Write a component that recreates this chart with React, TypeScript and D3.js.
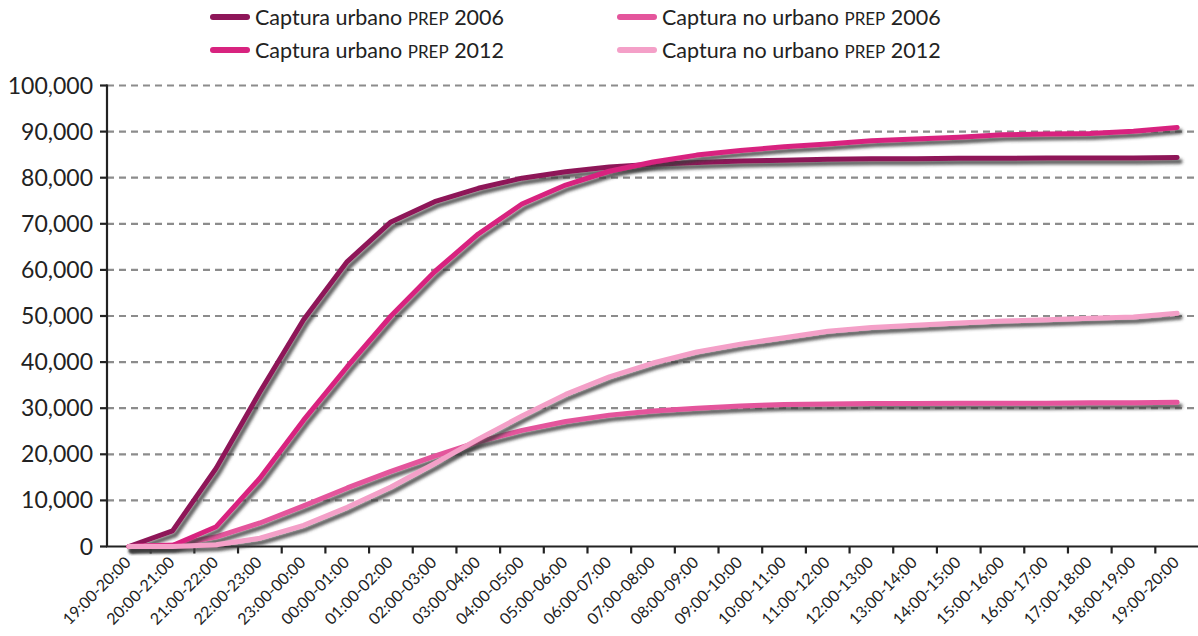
import React from "react";
import * as d3 from "d3";

const categories = [
  "19:00-20:00", "20:00-21:00", "21:00-22:00", "22:00-23:00", "23:00-00:00",
  "00:00-01:00", "01:00-02:00", "02:00-03:00", "03:00-04:00", "04:00-05:00",
  "05:00-06:00", "06:00-07:00", "07:00-08:00", "08:00-09:00", "09:00-10:00",
  "10:00-11:00", "11:00-12:00", "12:00-13:00", "13:00-14:00", "14:00-15:00",
  "15:00-16:00", "16:00-17:00", "17:00-18:00", "18:00-19:00", "19:00-20:00",
];

const urbano2006 = [
  0, 3400, 17000, 33500, 49200, 61800, 70400, 74800, 77700, 79900, 81300, 82300, 82900,
  83300, 83600, 83800, 84000, 84100, 84100, 84200, 84200, 84300, 84300, 84300, 84400,
];
const urbano2012 = [
  0, 200, 4300, 14800, 27400, 39000, 50000, 59600, 67800, 74300, 78400, 81400, 83400,
  84900, 85900, 86700, 87300, 88000, 88400, 88800, 89300, 89500, 89600, 90100, 90900,
];
const noUrbano2006 = [
  0, 300, 2100, 5100, 8800, 12700, 16300, 19600, 22700, 25200, 27100, 28500, 29400,
  30000, 30500, 30800, 30900, 31000, 31000, 31100, 31100, 31100, 31200, 31200, 31300,
];
const noUrbano2012 = [
  0, 0, 400, 1800, 4600, 8500, 12900, 18000, 23300, 28300, 33000, 36800, 39800,
  42200, 43900, 45300, 46700, 47500, 48000, 48500, 48900, 49200, 49500, 49800, 50600,
];

const yTicks = [0, 10000, 20000, 30000, 40000, 50000, 60000, 70000, 80000, 90000, 100000];

const series = [
  { name: "urbano", year: "2006", values: urbano2006, color: "#8e1659" },
  { name: "no urbano", year: "2006", values: noUrbano2006, color: "#e4559c" },
  { name: "urbano", year: "2012", values: urbano2012, color: "#d8237f" },
  { name: "no urbano", year: "2012", values: noUrbano2012, color: "#f4a0c8" },
];

const W = 1198;
const H = 636;
const font = "Lato, 'Open Sans', sans-serif";

export default function App() {
  const x = d3.scaleBand<string>().domain(categories.map((c, i) => String(i))).range([107, 1199]);
  const y = d3.scaleLinear().domain([0, 100000]).range([546.5, 85.5]);
  const bw = x.bandwidth();
  const cx = (i: number) => (x(String(i)) as number) + bw / 2;
  const fmt = d3.format(",");

  const line = d3
    .line<number>()
    .x((d, i) => cx(i))
    .y((d) => y(d))
    .curve(d3.curveLinear);

  // legend layout: two columns, two rows
  const legendPos = [
    { lx: 213, ly: 17 },
    { lx: 620, ly: 17 },
    { lx: 213, ly: 50 },
    { lx: 620, ly: 50 },
  ];

  return (
    <svg width={W} height={H} style={{ position: "absolute", left: 0, top: 0, background: "#fff" }}>
      <defs>
        <filter id="shadow" x="-5%" y="-5%" width="110%" height="120%">
          <feDropShadow dx="3" dy="4" stdDeviation="1.8" floodColor="#3a3a3a" floodOpacity="0.8" />
        </filter>
      </defs>

      {/* grid */}
      {yTicks.filter((t) => t > 0).map((t) => (
        <line key={t} x1={107} x2={W} y1={y(t)} y2={y(t)} stroke="#8c8c8c" strokeWidth={2.2} strokeDasharray="7,5" />
      ))}

      {/* y axis */}
      <line x1={107} x2={107} y1={y(100000) - 1} y2={y(0)} stroke="#222" strokeWidth={2.2} />
      {yTicks.map((t) => (
        <g key={t}>
          <line x1={100} x2={107} y1={y(t)} y2={y(t)} stroke="#222" strokeWidth={2.2} />
          <text x={93} y={y(t) + 8} textAnchor="end" fontFamily={font} fontSize={23} fill="#222">
            {fmt(t)}
          </text>
        </g>
      ))}

      {/* x axis */}
      <line x1={106} x2={W} y1={y(0)} y2={y(0)} stroke="#222" strokeWidth={2.2} />
      {categories.map((c, i) =>
        i > 0 ? (
          <line key={"t" + i} x1={x(String(i)) as number} x2={x(String(i)) as number} y1={y(0)} y2={y(0) + 7} stroke="#222" strokeWidth={2.2} />
        ) : null
      )}
      {categories.map((c, i) => (
        <text
          key={"l" + i}
          transform={`translate(${cx(i) + 3},${y(0) + 17}) rotate(-45)`}
          textAnchor="end"
          fontFamily={font}
          fontSize={16}
          fill="#222"
        >
          {c}
        </text>
      ))}

      {/* lines */}
      {[0, 1, 2, 3].map((k) => {
        const s = series[k];
        return (
          <path
            key={k}
            d={line(s.values) as string}
            fill="none"
            stroke={s.color}
            strokeWidth={5}
            strokeLinejoin="round"
            strokeLinecap="round"
            filter="url(#shadow)"
          />
        );
      })}

      {/* legend */}
      {series.map((s, k) => {
        const p = legendPos[k];
        return (
          <g key={"lg" + k}>
            <line x1={p.lx} x2={p.lx + 34} y1={p.ly} y2={p.ly} stroke={s.color} strokeWidth={6} strokeLinecap="round" />
            <text x={p.lx + 42} y={p.ly + 8} fontFamily={font} fontSize={21.5} fill="#222">
              {`Captura ${s.name} `}
              <tspan fontSize={17}>PREP</tspan>
              {` ${s.year}`}
            </text>
          </g>
        );
      })}
    </svg>
  );
}
